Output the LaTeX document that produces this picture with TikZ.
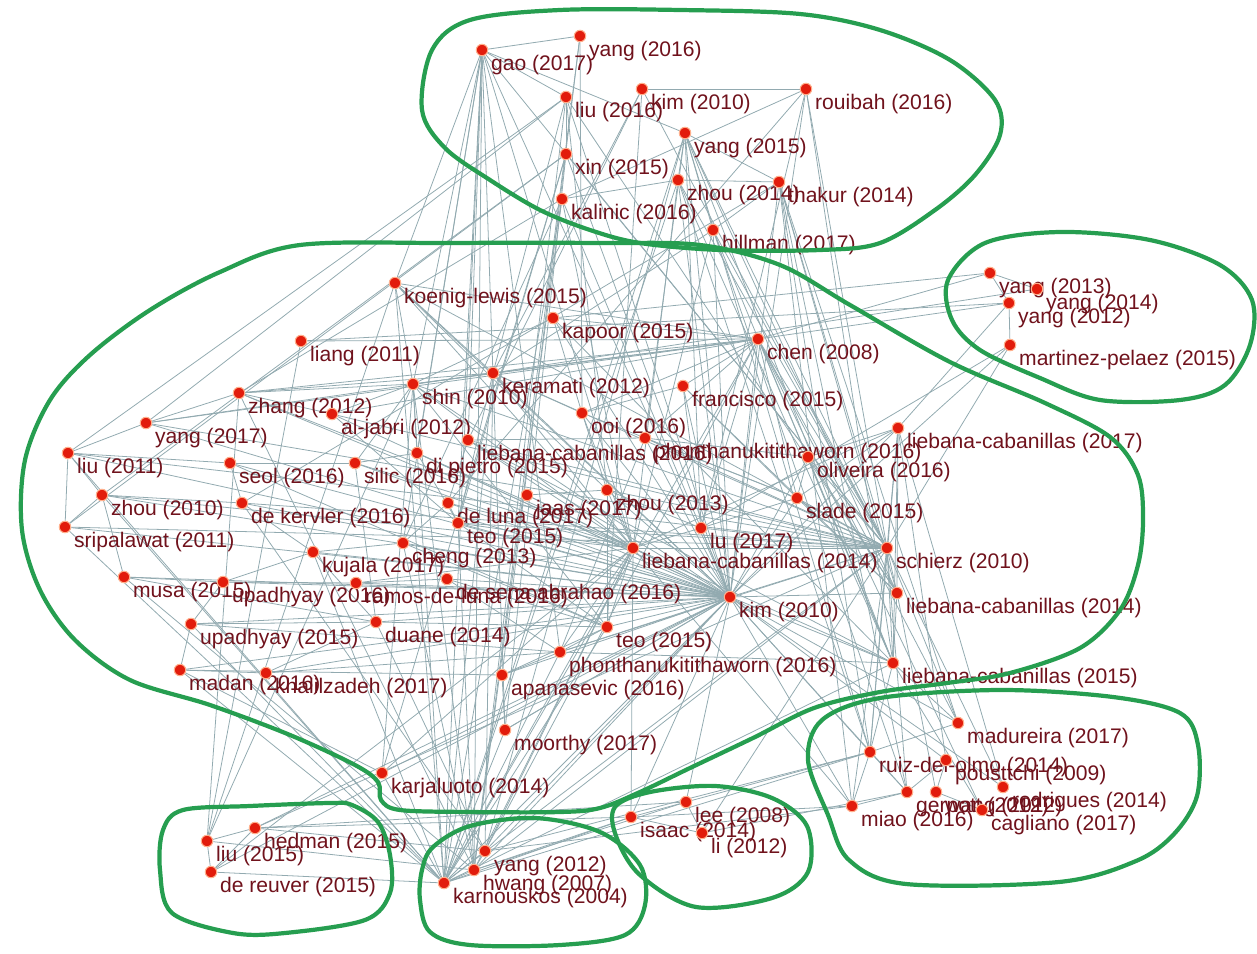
\documentclass[tikz,border=0pt]{standalone}
\usepackage{fontspec}
\setmainfont{Liberation Sans}
\usetikzlibrary{backgrounds}

\definecolor{dotred}{RGB}{226,28,12}
\definecolor{halo}{RGB}{255,175,140}
\definecolor{lblred}{RGB}{112,18,28}
\definecolor{linkgrey}{RGB}{146,170,176}
\definecolor{grpgreen}{RGB}{38,158,80}

\begin{document}
\begin{tikzpicture}[x=0.02cm, y=-0.02cm,
    dot/.style={circle, fill=dotred, draw=halo, line width=0.6pt, inner sep=0pt, minimum size=0.23cm},
    lbl/.style={font=\fontsize{12}{13}\selectfont, text=lblred, inner sep=0pt, xshift=2.5pt},
    link/.style={draw=linkgrey, line width=0.45pt},
    grp/.style={draw=grpgreen, line width=2.4pt, line join=round}]
  \useasboundingbox (0,0) rectangle (1257,953);

  % upper group
  \node[dot, label={[lbl]below right:gao (2017)}] (gao17) at (482,50) {};
  \node[dot, label={[lbl]below right:yang (2016)}] (yang16) at (580,36) {};
  \node[dot, label={[lbl]below right:liu (2016)}] (liu16) at (566,97) {};
  \node[dot, label={[lbl]below right:kim (2010)}] (kim10t) at (642,89) {};
  \node[dot, label={[lbl]below right:rouibah (2016)}] (rouibah16) at (806,89) {};
  \node[dot, label={[lbl]below right:yang (2015)}] (yang15) at (685,133) {};
  \node[dot, label={[lbl]below right:xin (2015)}] (xin15) at (566,154) {};
  \node[dot, label={[lbl]below right:zhou (2014)}] (zhou14) at (678,180) {};
  \node[dot, label={[lbl]below right:thakur (2014)}] (thakur14) at (779,182) {};
  \node[dot, label={[lbl]below right:kalinic (2016)}] (kalinic16) at (562,199) {};
  \node[dot, label={[lbl]below right:hillman (2017)}] (hillman17) at (713,230) {};

  % right group
  \node[dot, label={[lbl]below right:yang (2013)}] (yang13) at (990,273) {};
  \node[dot, label={[lbl]below right:yang (2014)}] (yang14) at (1037,289) {};
  \node[dot, label={[lbl]below right:yang (2012)}] (yang12r) at (1009,303) {};
  \node[dot, label={[lbl]below right:martinez-pelaez (2015)}] (martinez15) at (1010,345) {};

  % main group
  \node[dot, label={[lbl]below right:koenig-lewis (2015)}] (koenig15) at (395,283) {};
  \node[dot, label={[lbl]below right:kapoor (2015)}] (kapoor15) at (553,318) {};
  \node[dot, label={[lbl]below right:liang (2011)}] (liang11) at (301,341) {};
  \node[dot, label={[lbl]below right:chen (2008)}] (chen08) at (758,339) {};
  \node[dot, label={[lbl]below right:keramati (2012)}] (keramati12) at (493,373) {};
  \node[dot, label={[lbl]below right:shin (2010)}] (shin10) at (413,384) {};
  \node[dot, label={[lbl]below right:francisco (2015)}] (francisco15) at (683,386) {};
  \node[dot, label={[lbl]below right:zhang (2012)}] (zhang12) at (239,393) {};
  \node[dot, label={[lbl]below right:al-jabri (2012)}] (aljabri12) at (332,414) {};
  \node[dot, label={[lbl]below right:ooi (2016)}] (ooi16) at (582,413) {};
  \node[dot, label={[lbl]below right:yang (2017)}] (yang17) at (146,423) {};
  \node[dot, label={[lbl]below right:liebana-cabanillas (2016)}] (liebana16) at (468,440) {};
  \node[dot, label={[lbl]below right:phonthanukitithaworn (2016)}] (phon16a) at (645,438) {};
  \node[dot, label={[lbl]below right:liebana-cabanillas (2017)}] (liebana17) at (898,428) {};
  \node[dot, label={[lbl]below right:liu (2011)}] (liu11) at (68,453) {};
  \node[dot, label={[lbl]below right:seol (2016)}] (seol16) at (230,463) {};
  \node[dot, label={[lbl]below right:silic (2016)}] (silic16) at (355,463) {};
  \node[dot, label={[lbl]below right:di pietro (2015)}] (dipietro15) at (417,453) {};
  \node[dot, label={[lbl]below right:oliveira (2016)}] (oliveira16) at (808,457) {};
  \node[dot, label={[lbl]below right:zhou (2010)}] (zhou10) at (102,495) {};
  \node[dot, label={[lbl]below right:de kervler (2016)}] (dekervler16) at (242,503) {};
  \node[dot, label={[lbl]below right:de luna (2017)}] (deluna17) at (448,503) {};
  \node[dot, label={[lbl]below right:teo (2015)}] (teo15a) at (458,523) {};
  \node[dot, label={[lbl]below right:jaas (2017)}] (jaas17) at (527,495) {};
  \node[dot, label={[lbl]below right:zhou (2013)}] (zhou13) at (607,490) {};
  \node[dot, label={[lbl]below right:slade (2015)}] (slade15) at (797,498) {};
  \node[dot, label={[lbl]below right:lu (2017)}] (lu17) at (701,528) {};
  \node[dot, label={[lbl]below right:liebana-cabanillas (2014)}] (liebana14a) at (633,548) {};
  \node[dot, label={[lbl]below right:schierz (2010)}] (schierz10) at (887,548) {};
  \node[dot, label={[lbl]below right:cheng (2013)}] (cheng13) at (403,543) {};
  \node[dot, label={[lbl]below right:kujala (2017)}] (kujala17) at (313,552) {};
  \node[dot, label={[lbl]below right:sripalawat (2011)}] (sripalawat11) at (65,527) {};
  \node[dot, label={[lbl]below right:musa (2015)}] (musa15) at (124,577) {};
  \node[dot, label={[lbl]below right:upadhyay (2016)}] (upadhyay16) at (223,582) {};
  \node[dot, label={[lbl]below right:ramos-de-luna (2016)}] (ramos16) at (356,583) {};
  \node[dot, label={[lbl]below right:de sena abrahao (2016)}] (desena16) at (447,579) {};
  \node[dot, label={[lbl]below right:upadhyay (2015)}] (upadhyay15) at (191,624) {};
  \node[dot, label={[lbl]below right:duane (2014)}] (duane14) at (376,622) {};
  \node[dot, label={[lbl]below right:kim (2010)}] (kim10) at (730,597) {};
  \node[dot, label={[lbl]below right:liebana-cabanillas (2014)}] (liebana14b) at (897,593) {};
  \node[dot, label={[lbl]below right:teo (2015)}] (teo15b) at (607,627) {};
  \node[dot, label={[lbl]below right:phonthanukitithaworn (2016)}] (phon16b) at (560,652) {};
  \node[dot, label={[lbl]below right:liebana-cabanillas (2015)}] (liebana15) at (893,663) {};
  \node[dot, label={[lbl]below right:madan (2016)}] (madan16) at (180,670) {};
  \node[dot, label={[lbl]below right:khalilzadeh (2017)}] (khalil17) at (266,673) {};
  \node[dot, label={[lbl]below right:apanasevic (2016)}] (apanasevic16) at (502,675) {};
  \node[dot, label={[lbl]below right:moorthy (2017)}] (moorthy17) at (505,730) {};
  \node[dot, label={[lbl]below right:karjaluoto (2014)}] (karjaluoto14) at (382,773) {};

  % lower groups
  \node[dot, label={[lbl]below right:hedman (2015)}] (hedman15) at (255,828) {};
  \node[dot, label={[lbl]below right:liu (2015)}] (liu15) at (207,841) {};
  \node[dot, label={[lbl]below right:de reuver (2015)}] (dereuver15) at (211,872) {};
  \node[dot, label={[lbl]below right:yang (2012)}] (yang12b) at (485,851) {};
  \node[dot, label={[lbl]below right:hwang (2007)}] (hwang07) at (474,870) {};
  \node[dot, label={[lbl]below right:karnouskos (2004)}] (karnouskos04) at (444,883) {};
  \node[dot, label={[lbl]below right:lee (2008)}] (lee08) at (686,802) {};
  \node[dot, label={[lbl]below right:isaac (2014)}] (isaac14) at (631,817) {};
  \node[dot, label={[lbl]below right:li (2012)}] (li12) at (702,833) {};
  \node[dot, label={[lbl]below right:madureira (2017)}] (madureira17) at (958,723) {};
  \node[dot, label={[lbl]below right:ruiz-del-olmo (2014)}] (ruiz14) at (870,752) {};
  \node[dot, label={[lbl]below right:pousttchi (2009)}] (pousttchi09) at (946,760) {};
  \node[dot, label={[lbl]below right:rodrigues (2014)}] (rodrigues14) at (1003,787) {};
  \node[dot, label={[lbl]below right:gerpott (2012)}] (gerpott12) at (907,792) {};
  \node[dot, label={[lbl]below right:wang (2012)}] (wang12) at (936,792) {};
  \node[dot, label={[lbl]below right:cagliano (2017)}] (cagliano17) at (982,810) {};
  \node[dot, label={[lbl]below right:miao (2016)}] (miao16) at (852,806) {};

  % citation links
  \begin{scope}[on background layer]
    \foreach \a/\b in {gao17/yang16, gao17/liu16, gao17/yang15, kim10t/rouibah16, yang15/zhou14, yang15/thakur14,
        yang15/hillman17, liu16/xin15, zhou14/thakur14, thakur14/hillman17, gao17/karnouskos04, gao17/hwang07,
        gao17/kim10, gao17/liebana14a, gao17/schierz10, gao17/shin10, gao17/koenig15, gao17/cheng13, gao17/moorthy17,
        gao17/teo15a, yang16/ooi16, yang16/apanasevic16, liu16/liu11, liu16/kim10, liu16/zhou13, liu16/yang17,
        kim10t/keramati12, kim10t/schierz10, rouibah16/liebana15, rouibah16/schierz10, rouibah16/kalinic16,
        rouibah16/deluna17, yang15/kim10, yang15/schierz10, yang15/liebana14b, yang15/lu17, yang15/karnouskos04,
        xin15/sripalawat11, xin15/kim10, xin15/moorthy17, xin15/karjaluoto14, zhou14/kim10, zhou14/liebana15,
        zhou14/ruiz14, zhou14/kalinic16, thakur14/gerpott12, thakur14/schierz10, thakur14/dekervler16,
        thakur14/madureira17, thakur14/liebana14b, kalinic16/kim10, kalinic16/cheng13, kalinic16/karnouskos04,
        kalinic16/zhang12, hillman17/kim10, hillman17/liebana14a, hillman17/keramati12, gao17/liebana16,
        gao17/dipietro15, gao17/phon16b, yang16/hwang07, liu16/keramati12, liu16/hwang07, liu16/liebana14b,
        kim10t/teo15b, kim10t/liebana16, yang15/liebana15, yang15/ruiz14, yang15/phon16a, yang15/yang12b,
        xin15/zhou10, xin15/schierz10, xin15/teo15a, zhou14/schierz10, zhou14/liebana14a, zhou14/karnouskos04,
        thakur14/kim10, thakur14/ruiz14, thakur14/miao16, kalinic16/liebana14a, kalinic16/hwang07,
        hillman17/schierz10, hillman17/liebana15, hillman17/gerpott12, rouibah16/lu17, rouibah16/kim10}
      \draw[link] (\a) -- (\b);
    \foreach \a/\b in {yang13/yang14, yang13/yang12r, yang12r/martinez15, yang13/chen08, yang12r/chen08,
        yang12r/liang11, yang13/kapoor15, martinez15/schierz10, martinez15/kim10, yang14/keramati12,
        yang12r/liebana17, martinez15/lu17, liang11/chen08, koenig15/shin10, koenig15/chen08, koenig15/kim10,
        koenig15/liebana14a, koenig15/schierz10, koenig15/keramati12, koenig15/zhou13, kapoor15/chen08,
        kapoor15/kim10, kapoor15/shin10, kapoor15/ooi16, kapoor15/liebana15, chen08/shin10, chen08/keramati12,
        chen08/zhang12, chen08/kim10, chen08/schierz10, chen08/liebana14b, chen08/lu17, chen08/francisco15,
        chen08/ooi16, chen08/slade15, chen08/phon16a, chen08/karnouskos04, chen08/liebana15, chen08/aljabri12,
        chen08/yang17, keramati12/shin10, keramati12/kim10, keramati12/teo15a, keramati12/liebana14a,
        keramati12/schierz10, keramati12/zhang12, keramati12/ooi16, shin10/zhang12, shin10/kim10, shin10/aljabri12,
        shin10/schierz10, shin10/liebana14a, shin10/teo15b, shin10/karnouskos04, shin10/dipietro15, shin10/silic16,
        francisco15/kim10, francisco15/lu17, francisco15/liebana14b, francisco15/ooi16, francisco15/slade15,
        zhang12/yang17, zhang12/kim10, zhang12/liebana14a, zhang12/aljabri12, aljabri12/kim10, aljabri12/schierz10,
        aljabri12/teo15a, ooi16/kim10, ooi16/zhou13, ooi16/liebana14a, ooi16/slade15, yang17/liu11, yang17/kim10,
        yang17/schierz10, yang17/keramati12, liebana16/kim10, liebana16/liebana14a, liebana16/liebana15,
        liebana16/schierz10, liebana16/phon16a, liebana16/deluna17, phon16a/kim10, phon16a/slade15,
        phon16a/oliveira16, phon16a/phon16b, phon16a/schierz10}
      \draw[link] (\a) -- (\b);
    \foreach \a/\b in {liebana17/kim10, liebana17/schierz10, liebana17/liebana14b, liebana17/oliveira16,
        liebana17/slade15, liebana17/liebana14a, liebana17/liebana15, liebana17/ruiz14, liu11/zhou10, liu11/kim10,
        liu11/sripalawat11, liu11/schierz10, liu11/seol16, seol16/kim10, seol16/dekervler16, seol16/silic16,
        seol16/teo15b, silic16/kim10, silic16/dipietro15, silic16/liebana14a, silic16/duane14, dipietro15/kim10,
        dipietro15/teo15a, dipietro15/liebana14a, oliveira16/kim10, oliveira16/schierz10, oliveira16/slade15,
        oliveira16/liebana14b, oliveira16/liebana15, zhou10/kim10, zhou10/dekervler16, zhou10/sripalawat11,
        zhou10/liebana14a, zhou10/musa15, dekervler16/kim10, dekervler16/kujala17, dekervler16/schierz10,
        deluna17/kim10, deluna17/teo15a, deluna17/liebana14a, deluna17/cheng13, teo15a/kim10, teo15a/liebana14a,
        teo15a/schierz10, teo15a/teo15b, jaas17/kim10, jaas17/zhou13, jaas17/liebana14a, zhou13/kim10, zhou13/lu17,
        zhou13/liebana14a, zhou13/schierz10, zhou13/teo15b, slade15/kim10, slade15/schierz10, slade15/liebana14b,
        slade15/lu17, lu17/kim10, lu17/schierz10, lu17/liebana14a, liebana14a/kim10, liebana14a/schierz10,
        liebana14a/liebana15, liebana14a/teo15b, liebana14a/phon16b, schierz10/kim10, schierz10/liebana14b,
        schierz10/liebana15, schierz10/phon16b, cheng13/kim10, cheng13/kujala17, cheng13/teo15b, kujala17/kim10,
        kujala17/upadhyay16, kujala17/duane14, sripalawat11/kim10, sripalawat11/schierz10, musa15/upadhyay16,
        musa15/kim10, musa15/duane14, upadhyay16/kim10, upadhyay16/ramos16, upadhyay16/upadhyay15, ramos16/desena16,
        ramos16/kim10, ramos16/liebana14a, desena16/kim10, desena16/teo15b, desena16/phon16b, upadhyay15/kim10,
        upadhyay15/duane14, upadhyay15/madan16, upadhyay15/phon16b, duane14/kim10, duane14/teo15b, duane14/khalil17,
        kim10/liebana14b, kim10/teo15b, kim10/phon16b, kim10/liebana15, kim10/apanasevic16, kim10/moorthy17,
        liebana14b/liebana15, teo15b/phon16b, teo15b/apanasevic16, phon16b/apanasevic16, phon16b/liebana15,
        madan16/khalil17, madan16/kim10, madan16/apanasevic16, khalil17/kim10, khalil17/phon16b,
        apanasevic16/moorthy17, moorthy17/kim10}
      \draw[link] (\a) -- (\b);
    \foreach \a/\b in {karjaluoto14/kim10, karjaluoto14/karnouskos04, karjaluoto14/shin10, karjaluoto14/liebana14a,
        karjaluoto14/madan16, karnouskos04/hwang07, karnouskos04/yang12b, karnouskos04/dereuver15,
        karnouskos04/kim10, karnouskos04/schierz10, karnouskos04/liebana14a, karnouskos04/teo15b,
        karnouskos04/phon16b, karnouskos04/koenig15, karnouskos04/keramati12, karnouskos04/zhou10,
        karnouskos04/liu11, karnouskos04/upadhyay15, karnouskos04/madan16, karnouskos04/isaac14,
        karnouskos04/moorthy17, karnouskos04/sripalawat11, karnouskos04/kujala17, karnouskos04/ruiz14,
        karnouskos04/liebana15, hwang07/yang12b, hwang07/kim10, hwang07/schierz10, hwang07/liebana14a,
        hwang07/shin10, hwang07/teo15a, hwang07/zhang12, hwang07/isaac14, hwang07/liu15, hwang07/cheng13,
        hwang07/musa15, hwang07/lee08, yang12b/kim10, yang12b/liebana14a, yang12b/keramati12, yang12b/duane14,
        yang12b/hedman15, yang12b/dekervler16, yang12b/miao16, yang12b/chen08, yang12b/ruiz14, liu15/hedman15,
        liu15/dereuver15, hedman15/dereuver15, liu15/zhang12, liu15/shin10, liu15/liang11, hedman15/kim10,
        hedman15/schierz10, hedman15/isaac14, dereuver15/kim10, dereuver15/liebana14a, liu15/koenig15,
        hedman15/lee08, isaac14/lee08, isaac14/li12, lee08/li12, isaac14/miao16, lee08/ruiz14, li12/gerpott12,
        isaac14/kim10, lee08/kim10, li12/schierz10, isaac14/liebana14a, ruiz14/madureira17, ruiz14/gerpott12,
        ruiz14/miao16, ruiz14/kim10, ruiz14/schierz10, ruiz14/liebana15, pousttchi09/gerpott12, pousttchi09/wang12,
        pousttchi09/kim10, madureira17/kim10, madureira17/liebana15, madureira17/schierz10, gerpott12/kim10,
        gerpott12/schierz10, wang12/cagliano17, wang12/liebana14b, rodrigues14/kim10, rodrigues14/schierz10,
        cagliano17/liebana15, miao16/kim10, miao16/schierz10, miao16/liebana14a, gerpott12/miao16,
        madureira17/chen08, pousttchi09/liebana17, cagliano17/chen08, rodrigues14/liebana17}
      \draw[link] (\a) -- (\b);
  \end{scope}

  % cluster outlines, drawn by hand in the original
  \draw[grp] plot[smooth cycle, tension=0.55] coordinates {(432,50) (470,20) (560,10) (680,10) (800,14)
      (880,30) (950,60) (995,100) (1000,135) (975,175) (935,210) (880,243) (820,250) (720,250) (640,243)
      (590,230) (540,210) (490,180) (445,148) (422,110)};
  \draw[grp] plot[smooth cycle, tension=0.55] coordinates {(300,245) (450,243) (600,243) (700,245) (780,265)
      (850,305) (950,362) (1045,403) (1110,437) (1138,475) (1143,520) (1138,565) (1120,610) (1080,648)
      (1010,673) (947,683) (880,692) (814,708) (753,738) (690,768) (640,792) (600,808) (560,812) (470,812)
      (400,810) (381,800) (378,782) (355,765) (290,735) (210,705) (130,680) (75,640) (40,590) (22,530)
      (25,460) (50,400) (90,355) (150,310) (220,272)};
  \draw[grp] plot[smooth cycle, tension=0.55] coordinates {(985,243) (1060,232) (1150,240) (1220,265)
      (1252,300) (1250,345) (1225,385) (1180,400) (1100,400) (1040,378) (980,350) (952,320) (948,280)};
  \draw[grp] plot[smooth cycle, tension=0.55] coordinates {(183,810) (250,806) (330,803) (352,805) (378,822)
      (390,855) (390,893) (365,920) (285,933) (233,933) (172,913) (160,870) (163,830)};
  \draw[grp] plot[smooth cycle, tension=0.55] coordinates {(433,847) (470,826) (535,818) (600,832) (640,865)
      (645,905) (625,935) (560,945) (470,945) (430,932) (420,900) (422,870)};
  \draw[grp] plot[smooth cycle, tension=0.55] coordinates {(615,807) (650,792) (715,786) (772,798) (807,826)
      (808,872) (772,898) (696,907) (640,875) (616,836)};
  \draw[grp] plot[smooth cycle, tension=0.55] coordinates {(822,720) (880,698) (1000,690) (1113,697)
      (1180,713) (1198,745) (1197,796) (1174,834) (1136,861) (1059,882) (906,884) (849,860) (828,815)
      (808,760)};
\end{tikzpicture}
\end{document}
